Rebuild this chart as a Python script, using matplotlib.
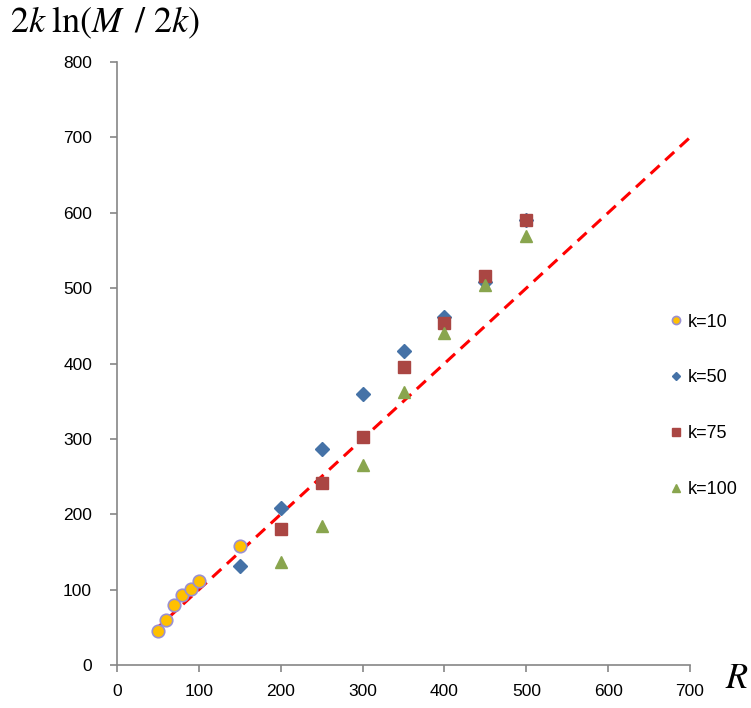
import numpy as np
import matplotlib.pyplot as plt

plt.rcParams['mathtext.fontset'] = 'stix'
plt.rcParams['font.family'] = 'Liberation Sans'

# data
R_k10 = [50, 60, 70, 80, 90, 100, 150]
y_k10 = [45, 60, 80, 93, 101, 111, 158]

R_k50 = [150, 200, 250, 300, 350, 400, 450, 500]
y_k50 = [132, 208, 286, 360, 416, 462, 508, 590]

R_k75 = [200, 250, 300, 350, 400, 450, 500]
y_k75 = [180, 241, 302, 396, 454, 516, 590]

R_k100 = [200, 250, 300, 350, 400, 450, 500]
y_k100 = [137, 184, 265, 362, 440, 504, 569]

line_R = [45, 700]
line_y = [45, 700]

fig = plt.figure(figsize=(7.51, 7.08), dpi=100)
ax = fig.add_axes([0.1558, 0.0607, 0.763, 0.8517])

ax.plot(line_R, line_y, color='red', lw=2.2, ls=(0, (4, 2.5)), zorder=1)

ax.plot(R_k10, y_k10, 'o', color='#FFC000', mec='#9A90D0', mew=1.2, ms=9, label='k=10', zorder=3)
ax.plot(R_k50, y_k50, 'D', color='#4572A7', mec='#4572A7', ms=7, label='k=50', zorder=3)
ax.plot(R_k75, y_k75, 's', color='#AA4643', mec='#AA4643', ms=9, label='k=75', zorder=3)
ax.plot(R_k100, y_k100, '^', color='#89A54E', mec='#89A54E', ms=9, label='k=100', zorder=3)

ax.set_xlim(0, 700)
ax.set_ylim(0, 800)
ax.set_xticks(np.arange(0, 701, 100))
ax.set_yticks(np.arange(0, 801, 100))

for s in ['top', 'right']:
    ax.spines[s].set_visible(False)
for s in ['left', 'bottom']:
    ax.spines[s].set_color('#868686')
    ax.spines[s].set_linewidth(1.2)
ax.tick_params(colors='#868686', labelcolor='black', labelsize=12.5, length=5, width=1.2, direction='out')
ax.tick_params(axis='y', pad=13)
ax.tick_params(axis='x', pad=9)

ax.legend(loc='center left', bbox_to_anchor=(0.937, 0.43), frameon=False, fontsize=13,
          labelspacing=2.15, handlelength=0.6, handletextpad=0.4, markerscale=0.65)

fig.text(0.013, 0.968, r'$2k\;\ln(M\ \,/\ 2k)$', fontsize=26, ha='left', va='center')
fig.text(0.997, 0.042, r'$R$', fontsize=26, ha='right', va='center')

fig.savefig('out.png', dpi=100)
